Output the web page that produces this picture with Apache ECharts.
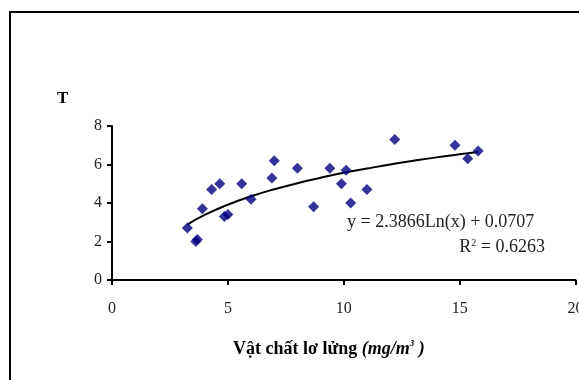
<!DOCTYPE html>
<html>
<head>
<meta charset="utf-8">
<script src="https://cdn.jsdelivr.net/npm/echarts@6/dist/echarts.min.js"></script>
<style>
  html, body { margin: 0; padding: 0; background: #fff; }
  #chart { width: 579px; height: 380px; }
</style>
</head>
<body>
<div id="chart"></div>
<script>
// observed points (suspended matter, T)
const suspended = [3.25, 3.62, 3.68, 3.9, 4.3, 4.65, 4.85, 5.0, 5.6, 6.0, 6.9, 7.0, 8.0, 8.7, 9.4, 9.9, 10.1, 10.3, 11.0, 12.2, 14.8, 15.35, 15.8];
const tValues = [2.7, 2.0, 2.1, 3.7, 4.7, 5.0, 3.3, 3.4, 5.0, 4.2, 5.3, 6.2, 5.8, 3.8, 5.8, 5.0, 5.7, 4.0, 4.7, 7.3, 7.0, 6.3, 6.7];

// log trend line
const trendX = [3.25, 4, 5, 6, 7, 8, 9, 10, 11, 12, 13, 14, 15, 15.8];
const trendY = [2.88, 3.38, 3.91, 4.35, 4.71, 5.03, 5.31, 5.57, 5.79, 6.0, 6.19, 6.37, 6.53, 6.65];

const xTicks = { min: 0, max: 20, interval: 5 };
const yTicks = { min: 0, max: 8, interval: 2 };

const yTitle = "T";
const xTitle = "Vật chất lơ lửng ";
const xUnit = "mg/m";
const equation = "y = 2.3866Ln(x) + 0.0707";
const rSquared = " = 0.6263";

const serif = "'Liberation Serif', 'DejaVu Serif', serif";

const chart = echarts.init(document.getElementById("chart"));

chart.setOption({
  backgroundColor: "#fff",
  animation: false,
  textStyle: { fontFamily: serif },
  grid: { left: 112, right: 3.5, top: 126, bottom: 100, containLabel: false, outerBoundsMode: "none" },
  xAxis: {
    type: "value",
    min: xTicks.min,
    max: xTicks.max,
    interval: xTicks.interval,
    axisLine: { onZero: false, lineStyle: { color: "#000", width: 2 } },
    axisTick: { show: true, length: 5, lineStyle: { color: "#000", width: 2 } },
    axisLabel: { color: "#222", fontSize: 16, fontFamily: serif, margin: 21 },
    splitLine: { show: false },
  },
  yAxis: {
    type: "value",
    min: yTicks.min,
    max: yTicks.max,
    interval: yTicks.interval,
    axisLine: { show: true, lineStyle: { color: "#000", width: 2 } },
    axisTick: { show: true, length: 5, lineStyle: { color: "#000", width: 2 } },
    axisLabel: { color: "#222", fontSize: 16, fontFamily: serif, margin: 10 },
    splitLine: { show: false },
  },
  series: [
    {
      type: "line",
      data: trendX.map((x, i) => [x, trendY[i]]),
      smooth: true,
      symbol: "none",
      lineStyle: { color: "#000", width: 2 },
      z: 2,
    },
    {
      type: "scatter",
      data: suspended.map((x, i) => [x, tValues[i]]),
      symbol: "diamond",
      symbolSize: 11,
      itemStyle: { color: "#000080" },
      z: 3,
    },
  ],
  graphic: [
    {
      type: "rect",
      shape: { x: 10, y: 12, width: 700, height: 500 },
      style: { fill: null, stroke: "#000", lineWidth: 2 },
      silent: true,
    },
    {
      type: "text",
      left: 57, top: 90,
      style: { text: yTitle, font: "bold 17px " + serif, fill: "#000" },
    },
    {
      type: "text",
      left: 347, top: 213,
      style: { text: equation, font: "18px " + serif, fill: "#222" },
    },
    {
      type: "text",
      right: 34, top: 238,
      style: {
        text: "{b|R}{s|2}{b|" + rSquared + "}",
        rich: {
          b: { font: "18px " + serif, fill: "#222", verticalAlign: "bottom" },
          s: { font: "10px " + serif, fill: "#222", verticalAlign: "top", padding: [0, 0, 8, 0] },
        },
      },
    },
    {
      type: "text",
      left: 233, top: 339,
      style: {
        text: "{b|" + xTitle + "}{i|(" + xUnit + "}{s|3}{i| )}",
        rich: {
          b: { font: "bold 18px " + serif, fill: "#000" },
          i: { font: "italic bold 18px " + serif, fill: "#000" },
          s: { font: "italic bold 9px " + serif, fill: "#000", padding: [0, 0, 12, 0] },
        },
      },
    },
  ],
});
</script>
</body>
</html>
